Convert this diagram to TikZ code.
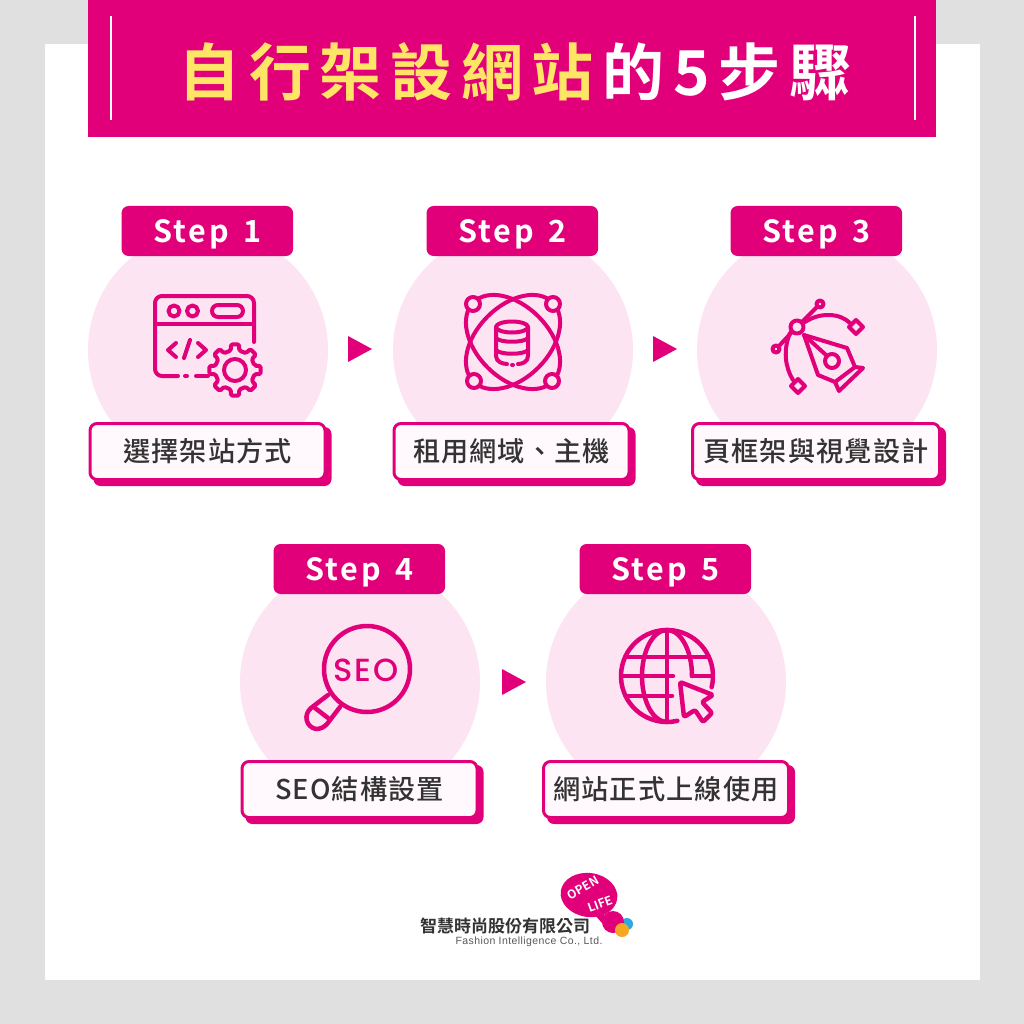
\documentclass[tikz,border=0pt]{standalone}
\usepackage{fontspec}
\usetikzlibrary{calc}
\newfontfamily\titlefont[LetterSpace=14]{Noto Sans CJK TC Bold}
\newfontfamily\stepfont[LetterSpace=9,WordSpace=1.5]{Noto Sans CJK TC Bold}
\newfontfamily\labelfont[LetterSpace=4]{Noto Sans CJK TC Medium}
\newfontfamily\logofont{Noto Sans CJK TC Bold}
\newfontfamily\enfont[LetterSpace=4]{Liberation Sans}
\newfontfamily\seofont[LetterSpace=6]{Poppins Medium}
\definecolor{hot}{HTML}{E2007A}
\definecolor{blush}{HTML}{FCE4F2}
\definecolor{panelgrey}{HTML}{E0E0E0}
\definecolor{titleyellow}{HTML}{FFE566}
\definecolor{labelfill}{HTML}{FFF8FC}
\definecolor{ink}{HTML}{333333}
\definecolor{ballblue}{HTML}{2FA8E0}
\definecolor{ballorange}{HTML}{F5A623}
\tikzset{
  icon/.style={draw=hot,line width=4pt,line cap=round,line join=round},
  stepbox/.style={fill=hot,rounded corners=7pt,minimum width=171.5pt,minimum height=50pt,inner sep=0pt,text=white,font=\stepfont\fontsize{30.5}{30.5}\selectfont},
  labelbox/.style={draw=hot,line width=3pt,fill=labelfill,rounded corners=7pt,minimum height=56pt,inner sep=0pt,text=ink,font=\labelfont\fontsize{27.2}{27.2}\selectfont},
  shadowbox/.style={fill=hot,rounded corners=7pt,minimum height=59pt,inner sep=0pt},
  blob/.style={circle,fill=blush,minimum size=240pt,inner sep=0pt},
  pointer/.style={fill=hot}
}
% name, circle x, circle y, step y, step text, label width, label x, label y, label text
\newcommand{\stepblock}[9]{
  \node[blob] (#1c) at (#2,#3) {};
  \node[shadowbox,minimum width=#6pt] (#1s) at (#7+5,#8+5) {};
  \node[labelbox,minimum width=#6pt-3pt] (#1l) at (#7,#8) {#9};
  \node[stepbox] (#1t) at (#2-0.7,#4) {\raisebox{-11pt}[0pt][0pt]{#5}};
}
\begin{document}
\begin{tikzpicture}[x=1pt,y=-1pt]
\useasboundingbox (0,0) rectangle (1024,1024);
\fill[panelgrey] (0,0) rectangle (1024,1024);
\fill[white] (45,44) rectangle (980,980);
\fill[hot] (88,0) rectangle (936,137);
\draw[white,line width=1.5pt] (111,16) -- (111,120);
\draw[white,line width=1.5pt] (915,16) -- (915,120);
\node[inner sep=0pt,font=\titlefont\fontsize{62}{62}\selectfont] (title) at (515,72) {\textcolor{titleyellow}{自行架設網站}\kern8.7pt\textcolor{white}{的5步驟}};

\stepblock{a}{208}{350}{231}{Step 1}{238}{207.5}{451.5}{選擇架站方式}
\stepblock{b}{513}{350}{231}{Step 2}{238}{511.5}{451.5}{租用網域、主機}
\stepblock{c}{817}{350}{231}{Step 3}{250}{816}{451.5}{頁框架與視覺設計}
\stepblock{d}{360}{682}{569}{Step 4}{238}{359.5}{789.5}{SEO結構設置}
\stepblock{e}{666}{682}{569}{Step 5}{248}{666}{789.5}{網站正式上線使用}

\fill[pointer] (348,336) -- (372,349) -- (348,362) -- cycle;
\fill[pointer] (653,336) -- (677,349) -- (653,362) -- cycle;
\fill[pointer] (502,669) -- (526,682) -- (502,695) -- cycle;

% icon 1: browser window and gear
\draw[icon,rounded corners=7pt] (254,342) -- (254,296) -- (155,296) -- (155,376) -- (178,376);
\draw[icon] (185,376) -- (187,376);
\draw[icon] (196,376) -- (208,376);
\draw[icon] (155,324) -- (254,324);
\draw[icon] (174,311) circle[radius=5.5];
\draw[icon] (192.5,311) circle[radius=5.5];
\draw[icon,rounded corners=6pt] (212,305) rectangle (243,317);
\draw[icon] (176,343) -- (168,350) -- (176,357);
\draw[icon] (190,340) -- (184,358);
\draw[icon] (198,343) -- (206,350) -- (198,357);
\begin{scope}[shift={(235,370)}]
  \draw[icon,rounded corners=1.5pt] (-12:20)
    \foreach \a in {0,45,...,315}{ -- (\a-12:20) -- (\a-9:26) -- (\a+9:26) -- (\a+12:20) } -- cycle;
  \draw[icon] (0,0) circle[radius=11];
\end{scope}

% icon 2: database with orbits
\draw[icon] (513,342) ellipse[x radius=56,y radius=36,rotate=45];
\draw[icon] (513,342) ellipse[x radius=56,y radius=36,rotate=-45];
\foreach \p/\q in {473/304,553/304,474/381,552/381}
  \draw[icon,fill=blush] (\p,\q) circle[radius=7];
\draw[icon] (512,327) ellipse[x radius=16,y radius=5.5];
\draw[icon] (496,327) -- (496,356) .. controls (496,362) and (503,364) .. (507,364);
\draw[icon] (528,327) -- (528,356) .. controls (528,362) and (522,364) .. (518,364);
\draw[icon] (512,365) -- (513,365);
\draw[icon] (496,338) .. controls (500,343) and (524,343) .. (528,338);
\draw[icon] (496,350) .. controls (500,355) and (524,355) .. (528,350);

% icon 3: pen tool
\draw[icon] (797,327) circle[radius=6.5];
\draw[icon] (820,304) circle[radius=3.5];
\draw[icon] (776,349) circle[radius=3.5];
\draw[icon] (802,322) -- (817,307);
\draw[icon] (792,332) -- (779,346);
\draw[icon] (805,322) .. controls (820,312) and (840,313) .. (850,323);
\draw[icon] (790,333) .. controls (783,350) and (785,367) .. (793,380);
\draw[icon] (856,320) -- (863,327) -- (856,334) -- (849,327) -- cycle;
\draw[icon] (798,379) -- (805,386) -- (798,393) -- (791,386) -- cycle;
\draw[icon] (804,335) -- (847,348) -- (855,367) -- (835,382) -- (818,375) -- cycle;
\draw[icon] (855,367) -- (863,368) -- (839,391) -- (835,382);
\draw[icon] (804,335) -- (826,355);
\draw[icon] (832,361) circle[radius=7];

% icon 4: magnifier
\draw[icon,line width=4.5pt] (367,669) circle[radius=43];
\node[inner sep=0pt,text=hot,font=\seofont\fontsize{32}{32}\selectfont] (seo) at (366,670) {SEO};
\draw[icon,line width=4.5pt] (328,695) -- (311,708) .. controls (303,715) and (306,727) .. (316,729) .. controls (321,729) and (324,727) .. (327,724) -- (340,707);
\draw[icon,line width=4.5pt] (315,708) -- (328,718);

% icon 5: globe and cursor
\draw[icon,line width=4.5pt] (667,676) ++(14:46) arc[start angle=14,end angle=-283,radius=46];
\draw[icon,line width=4.5pt] (667,630) -- (667,721);
\draw[icon,line width=4.5pt] (667,630) arc[start angle=-90,end angle=-270,x radius=25,y radius=46];
\draw[icon,line width=4.5pt] (667,630) arc[start angle=-90,end angle=0,x radius=25,y radius=46];
\draw[icon,line width=4.5pt] (626,657) -- (708,657);
\draw[icon,line width=4.5pt] (622,676) -- (673,676);
\draw[icon,line width=4.5pt] (692,676) -- (712,676);
\draw[icon,line width=4.5pt] (626,696) -- (672,696);
\draw[icon,line width=4.5pt,rounded corners=2pt] (680,682) -- (713,695) -- (702,702) -- (712,713) -- (703,722) -- (695,710) -- (684,717) -- cycle;

% logo
\fill[hot] (589,895) ellipse[x radius=28.5,y radius=22,rotate=-8];
\fill[hot] (592,912) -- (603,924) -- (606,905) -- cycle;
\node[rotate=30,inner sep=0pt,text=white,font=\logofont\fontsize{12}{12}\selectfont] (open) at (583,888) {OPEN};
\node[rotate=20,inner sep=0pt,text=white,font=\logofont\fontsize{12}{12}\selectfont] (life) at (600,904) {LIFE};
\fill[ballblue] (627,924) circle[radius=6];
\fill[hot] (613,922) circle[radius=11];
\fill[ballorange] (622,930) circle[radius=7];
\node[inner sep=0pt,text=black!80,font=\logofont\fontsize{17}{17}\selectfont] (company) at (505,926) {智慧時尚股份有限公司};
\node[inner sep=0pt,text=black!65,font=\enfont\fontsize{10.5}{10.5}\selectfont] (english) at (529,942) {Fashion Intelligence Co., Ltd.};
\end{tikzpicture}
\end{document}
